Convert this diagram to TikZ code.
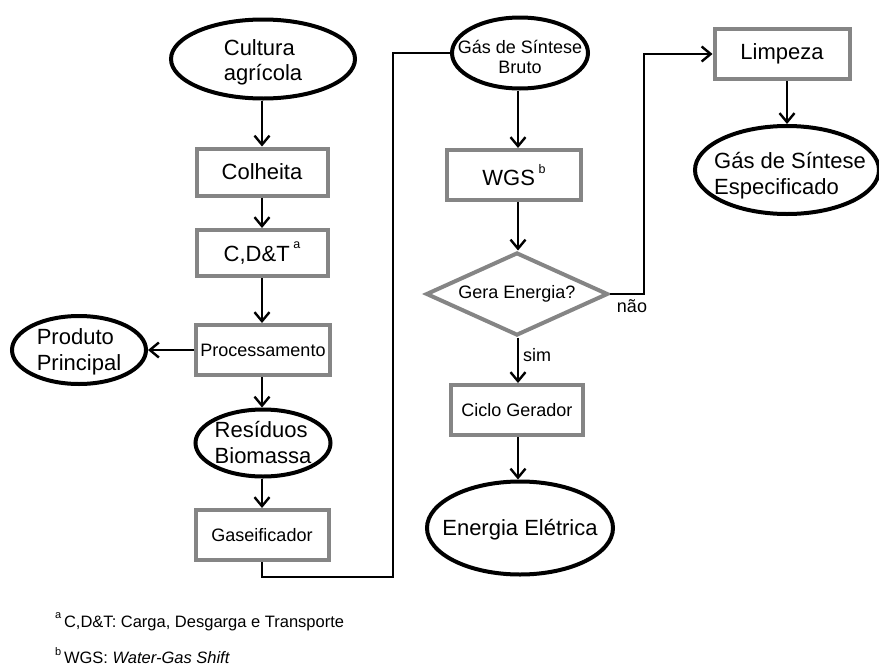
\documentclass[tikz,border=0pt]{standalone}
\usepackage{fontspec}
\setmainfont{Liberation Sans}
\usetikzlibrary{shapes.geometric,arrows.meta}
\definecolor{boxgray}{HTML}{858585}
\newcommand{\supmark}[2]{\raisebox{#1}{\fontsize{12.5}{12.5}\selectfont #2}}
\begin{document}
\begin{tikzpicture}[x=1pt,y=-1pt,
  box/.style={draw=boxgray,line width=4pt,rectangle,inner sep=0pt,fill=white},
  oval/.style={draw=black,line width=4pt,ellipse,inner sep=0pt,fill=white},
  decision/.style={draw=boxgray,line width=4pt,diamond,inner sep=0pt,fill=white},
  big/.style={font=\fontsize{22}{26}\selectfont},
  mid/.style={font=\fontsize{18}{20}\selectfont},
  flow/.style={line width=2.4pt,-{Straight Barb[length=9pt,width=15pt]}},
  link/.style={line width=2.4pt},
  tag/.style={font=\fontsize{18}{20}\selectfont,inner sep=0pt},
  note/.style={font=\fontsize{16.5}{18}\selectfont,inner sep=0pt,anchor=base west}
]
\useasboundingbox (0,0) rectangle (879,667);

% left column: crop to biomass residues
\node[oval,minimum width=184pt,minimum height=79pt,
  label={[big,align=left,inner sep=0pt,yshift=-3pt,font=\fontsize{22}{25}\selectfont]center:Cultura\\agrícola}] (cultura) at (263,59) {};
\node[box,big,minimum width=131pt,minimum height=47pt] (colheita) at (262,172) {Colheita};
\node[box,big,minimum width=131pt,minimum height=46pt] (cdt) at (262,253) {C,D\&T\,\supmark{13pt}{a}};
\node[box,mid,minimum width=134pt,minimum height=50pt] (proc) at (263,350) {Processamento};
\node[oval,minimum width=134pt,minimum height=68pt,
  label={[big,align=left,inner sep=0pt,yshift=-2pt]center:Produto\\Principal}] (produto) at (79,350) {};
\node[oval,minimum width=135pt,minimum height=67pt,
  label={[big,align=left,inner sep=0pt]center:Resíduos\\Biomassa}] (residuos) at (263,443) {};
\node[box,mid,minimum width=133pt,minimum height=50pt] (gas) at (262,535) {Gaseificador};

% middle column: raw syngas to electricity
\node[oval,minimum width=136pt,minimum height=71pt,
  label={[mid,align=center,inner sep=0pt,yshift=-4pt]center:Gás de Síntese\\Bruto}] (bruto) at (520,53) {};
\node[box,big,minimum width=134pt,minimum height=50pt] (wgs) at (514,175) {WGS\,\supmark{12pt}{b}};
\node[decision,minimum width=182pt,minimum height=83pt,shape aspect=2.2,
  label={[mid,inner sep=0pt]center:Gera Energia?}] (gera) at (517,294) {};
\node[box,mid,minimum width=132pt,minimum height=50pt] (ciclo) at (517,410) {Ciclo Gerador};
\node[oval,minimum width=186pt,minimum height=93pt,
  label={[big,inner sep=0pt,yshift=-2pt]center:Energia Elétrica}] (energia) at (520,528) {};

% right column: cleaning to specified syngas
\node[box,big,minimum width=135pt,minimum height=50pt] (limpeza) at (782,54) {Limpeza};
\node[oval,minimum width=184pt,minimum height=88pt,
  label={[big,align=left,inner sep=0pt,xshift=3pt,yshift=-6pt]center:Gás de Síntese\\Especificado}] (espec) at (787,170) {};

% branch labels
\node[tag] (nao) at (632,306) {não};
\node[tag] (sim) at (537,355) {sim};

% connectors
\draw[flow] (cultura.south -| colheita.north) -- (colheita.north);
\draw[flow] (colheita) -- (cdt);
\draw[flow] (cdt) -- (proc.north -| cdt.south);
\draw[flow] (proc.west) -- (produto.east);
\draw[flow] (proc.south -| cdt.south) -- (residuos.north -| cdt.south);
\draw[flow] (residuos.south -| cdt.south) -- (gas.north -| cdt.south);

\coordinate (j1) at (393,577);
\draw[link] (gas.south) |- (j1) |- (bruto.west);

\draw[flow] (bruto.south -| 518,0) -- (wgs.north -| 518,0);
\draw[flow] (wgs.south -| 518,0) -- (gera.north -| 518,0);
\draw[flow] (gera.south -| 518,0) -- (ciclo.north -| 518,0);
\draw[flow] (ciclo.south -| 518,0) -- (energia.north -| 518,0);

\coordinate (j2) at (644,294);
\draw[flow] (gera.east) -- (j2) |- (limpeza.west);
\draw[flow] (limpeza.south -| espec.north) -- (espec.north);

% footnotes
\node[note] (fa) at (55,627) {\raisebox{9pt}{\fontsize{11}{11}\selectfont a}\,C,D\&T: Carga, Desgarga e Transporte};
\node[note] (fb) at (55,663) {\raisebox{8pt}{\fontsize{11}{11}\selectfont b}\,WGS: \textit{Water-Gas Shift}};
\end{tikzpicture}
\end{document}
